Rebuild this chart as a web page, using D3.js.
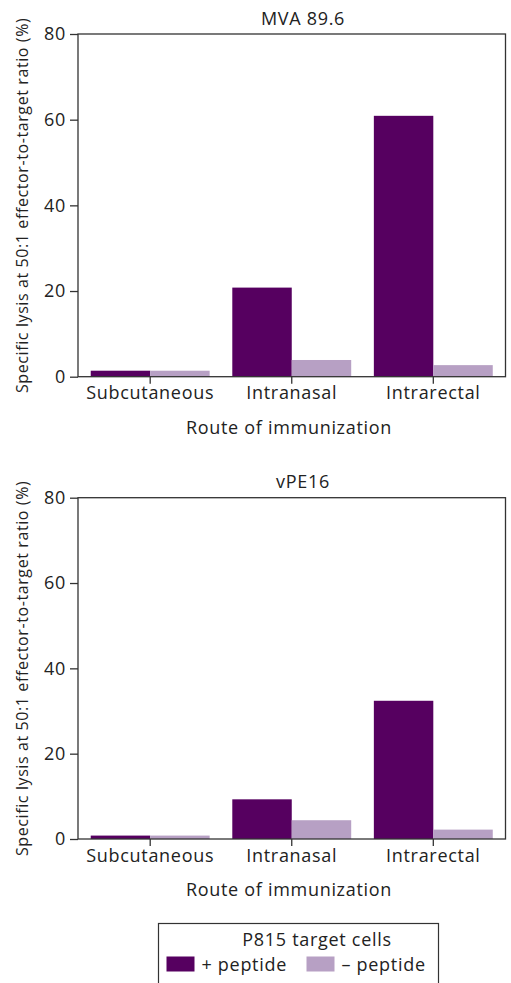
<!DOCTYPE html>
<html><head><meta charset="utf-8">
<script src="https://cdn.jsdelivr.net/npm/d3@7"></script>
<style>body{margin:0;background:#fff}svg{display:block}text{font-family:"Open Sans",sans-serif;fill:#222}</style>
</head><body><svg id="c" width="511" height="983"></svg>
<script>
const categories = ["Subcutaneous", "Intranasal", "Intrarectal"];
const seriesNames = ["+ peptide", "\u2013 peptide"];
const colors = ["#560060", "#b7a0c4"];
const panelTitles = ["MVA 89.6", "vPE16"];
const mvaPlus = [1.4, 20.8, 60.9];
const mvaMinus = [1.4, 3.9, 2.7];
const vpePlus = [0.8, 9.3, 32.4];
const vpeMinus = [0.8, 4.4, 2.2];
const yTicks = [0, 20, 40, 60, 80];
const yLabel = "Specific lysis at 50:1 effector-to-target ratio (%)";
const xLabel = "Route of immunization";
const legendTitle = "P815 target cells";

const FS = 18, LS = "0.7px";
const panels = [
  {title: panelTitles[0], data: [mvaPlus, mvaMinus], top: 34, bottom: 376.7, titleY: 25},
  {title: panelTitles[1], data: [vpePlus, vpeMinus], top: 497.7, bottom: 839, titleY: 488}
];
const svg = d3.select("#c");
const L = 78, R = 505.5;

function styleText(sel, size) {
  return sel.attr("font-size", size || FS).attr("font-family", "Open Sans").attr("fill", "#222")
    .style("letter-spacing", LS);
}

panels.forEach(p => {
  const g = svg.append("g");
  const x = d3.scaleBand().domain(categories).range([L, R]).paddingInner(0.16).paddingOuter(0.09);
  const xs = d3.scaleBand().domain([0, 1]).range([0, x.bandwidth()]);
  const y = d3.scaleLinear().domain([0, 80]).range([p.bottom, p.top]);

  categories.forEach((c, i) => {
    p.data.forEach((arr, s) => {
      g.append("rect")
        .attr("x", x(c) + xs(s))
        .attr("width", xs.bandwidth())
        .attr("y", y(arr[i]))
        .attr("height", y(0) - y(arr[i]))
        .attr("fill", colors[s]);
    });
  });

  g.append("rect").attr("x", L).attr("y", p.top).attr("width", R - L).attr("height", p.bottom - p.top)
    .attr("fill", "none").attr("stroke", "#333").attr("stroke-width", 1.3);

  const ya = d3.axisLeft(y).tickValues(yTicks).tickSize(8).tickPadding(4);
  const yg = g.append("g").attr("transform", `translate(${L},0)`).call(ya);
  yg.select(".domain").remove();
  yg.selectAll("line").attr("stroke", "#333").attr("stroke-width", 1.3);
  styleText(yg.selectAll("text"));

  const xa = d3.axisBottom(x).tickSize(7).tickPadding(3);
  const xg = g.append("g").attr("transform", `translate(0,${p.bottom})`).call(xa);
  xg.select(".domain").remove();
  xg.selectAll("line").attr("stroke", "#333").attr("stroke-width", 1.3);
  styleText(xg.selectAll("text"));

  styleText(g.append("text").attr("x", 303).attr("y", p.titleY).attr("text-anchor", "middle")).text(p.title);
  styleText(g.append("text").attr("x", 289).attr("y", p.bottom + 57).attr("text-anchor", "middle")).text(xLabel);
  styleText(g.append("text").attr("transform", `translate(28,${(p.top + p.bottom) / 2}) rotate(-90)`)
    .attr("text-anchor", "middle"), 16).style("letter-spacing", "0.6px").text(yLabel);
});

const lg = svg.append("g");
lg.append("rect").attr("x", 158.5).attr("y", 923.5).attr("width", 280).attr("height", 70)
  .attr("fill", "#fff").attr("stroke", "#333").attr("stroke-width", 1.2);
styleText(lg.append("text").attr("x", 317).attr("y", 946).attr("text-anchor", "middle")).text(legendTitle);
const legX = [166.5, 306.5];
seriesNames.forEach((n, i) => {
  lg.append("rect").attr("x", legX[i]).attr("y", 956.5).attr("width", 28).attr("height", 15).attr("fill", colors[i]);
  styleText(lg.append("text").attr("x", legX[i] + 35).attr("y", 971)).text(n);
});
</script></body></html>
